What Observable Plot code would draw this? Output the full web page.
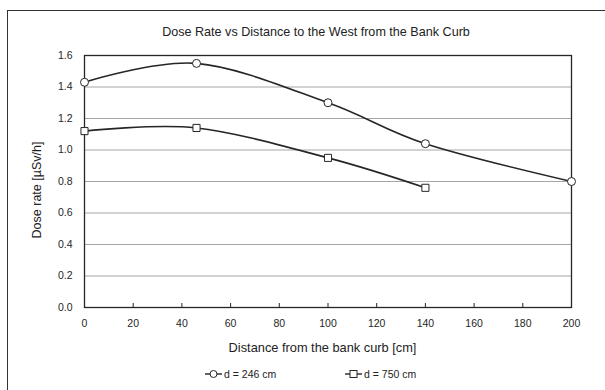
<!DOCTYPE html>
<html>
<head>
<meta charset="utf-8">
<script src="https://cdn.jsdelivr.net/npm/d3@7"></script>
<script src="https://cdn.jsdelivr.net/npm/@observablehq/plot@0.6"></script>
<style>
  html, body { margin: 0; padding: 0; background: #fff; overflow: hidden; }
  #chart { position: relative; width: 605px; height: 390px; overflow: hidden;
           font-family: "Liberation Sans", Arial, sans-serif; color: #222; }
  #border { position: absolute; left: 7px; top: 10px; width: 640px; height: 420px;
            border: 1px solid #333; box-sizing: border-box; }
  #title { position: absolute; left: 0; width: 632px; top: 25px; text-align: center;
           font-size: 12.6px; line-height: 14px; }
  #ylabel { position: absolute; left: 37px; top: 190px; font-size: 12.5px;
            transform: translate(-50%, -50%) rotate(-90deg); white-space: nowrap; }
  #xlabel { position: absolute; left: 0; width: 645px; top: 341px; text-align: center;
            font-size: 12.8px; line-height: 14px; }
  .leg { position: absolute; top: 368px; font-size: 10.5px; line-height: 12px;
         display: flex; align-items: center; white-space: nowrap; }
  .leg svg { margin-right: 2px; }
  #plot { position: absolute; left: 0; top: 0; }
</style>
</head>
<body>
<div id="chart">
  <div id="border"></div>
  <div id="plot"></div>
  <div id="title"></div>
  <div id="ylabel"></div>
  <div id="xlabel"></div>
  <div id="legend"></div>
</div>
<script>
// Dose rate measured at increasing distance from the bank curb
const titleText = "Dose Rate vs Distance to the West from the Bank Curb";
const xLabelText = "Distance from the bank curb [cm]";
const yLabelText = "Dose rate [µSv/h]";

const seriesNames = ["d = 246 cm", "d = 750 cm"];
const distance246 = [0, 46, 100, 140, 200];
const dose246 = [1.43, 1.55, 1.30, 1.04, 0.80];
const distance750 = [0, 46, 100, 140];
const dose750 = [1.12, 1.14, 0.95, 0.76];

const xTicks = [0, 20, 40, 60, 80, 100, 120, 140, 160, 180, 200];
const yTicks = [0.0, 0.2, 0.4, 0.6, 0.8, 1.0, 1.2, 1.4, 1.6];

const rows246 = distance246.map((x, i) => ({x, y: dose246[i], s: seriesNames[0]}));
const rows750 = distance750.map((x, i) => ({x, y: dose750[i], s: seriesNames[1]}));

const ink = "#262626";

const plot = Plot.plot({
  width: 605,
  height: 390,
  marginLeft: 84,
  marginRight: 34,
  marginTop: 55,
  marginBottom: 83,
  style: {fontFamily: "'Liberation Sans', Arial, sans-serif", fontSize: "10.5px", color: ink, background: "transparent"},
  x: {domain: [0, 200], ticks: xTicks},
  y: {domain: [0, 1.6], ticks: yTicks},
  marks: [
    Plot.gridY(yTicks, {stroke: "#a6a6a6", strokeOpacity: 1, strokeWidth: 1}),
    Plot.frame({stroke: ink, strokeWidth: 1.3}),
    Plot.axisY(yTicks, {tickSize: 0, tickPadding: 12, tickFormat: d3.format(".1f"), label: null, fill: ink, fontSize: 10.5}),
    Plot.axisX(xTicks, {tickSize: -4, tickPadding: 16, label: null, fill: ink, stroke: ink, fontSize: 10.5}),
    Plot.line(rows246, {x: "x", y: "y", curve: "cardinal", stroke: ink, strokeWidth: 1.6}),
    Plot.line(rows750, {x: "x", y: "y", curve: "cardinal", stroke: ink, strokeWidth: 1.6}),
    Plot.dot(rows246, {x: "x", y: "y", symbol: "circle", r: 4, fill: "white", stroke: ink, strokeWidth: 1}),
    Plot.dot(rows750, {x: "x", y: "y", symbol: "square", r: 4, fill: "white", stroke: ink, strokeWidth: 1})
  ]
});
document.getElementById("plot").appendChild(plot);

document.getElementById("title").textContent = titleText;
document.getElementById("xlabel").textContent = xLabelText;
document.getElementById("ylabel").textContent = yLabelText;

// Legend entries: a short line crossed by the series marker, then the label
const legend = document.getElementById("legend");
const legendLeft = [205, 345];
const legendSymbols = ["circle", "square"];
seriesNames.forEach((name, i) => {
  const item = document.createElement("div");
  item.className = "leg";
  item.style.left = legendLeft[i] + "px";
  const w = 17, h = 12;
  const svg = d3.create("svg").attr("width", w).attr("height", h);
  svg.append("line").attr("x1", 0).attr("x2", w).attr("y1", h / 2).attr("y2", h / 2)
    .attr("stroke", ink).attr("stroke-width", 1.4);
  if (legendSymbols[i] === "circle") {
    svg.append("circle").attr("cx", w / 2).attr("cy", h / 2).attr("r", 3.5)
      .attr("fill", "white").attr("stroke", ink);
  } else {
    svg.append("rect").attr("x", w / 2 - 3.5).attr("y", h / 2 - 3.5).attr("width", 7).attr("height", 7)
      .attr("fill", "white").attr("stroke", ink);
  }
  item.appendChild(svg.node());
  const label = document.createElement("span");
  label.textContent = name;
  item.appendChild(label);
  legend.appendChild(item);
});
</script>
</body>
</html>
